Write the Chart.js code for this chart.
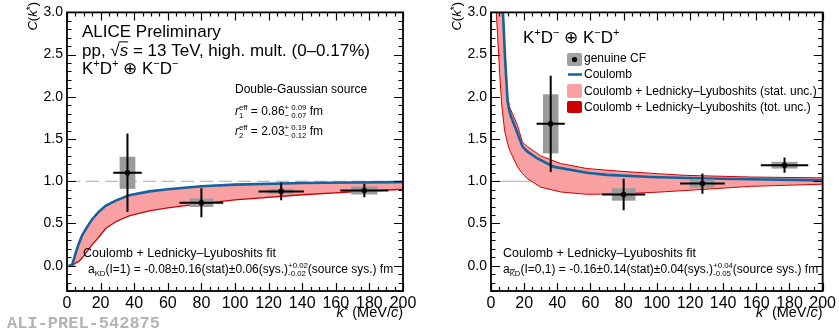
<!DOCTYPE html>
<html>
<head>
<meta charset="utf-8">
<script src="https://cdn.jsdelivr.net/npm/chart.js@4.4.0/dist/chart.umd.min.js"></script>
<style>
  html, body { margin: 0; padding: 0; background: #fff; }
  #wrap { position: relative; width: 839px; height: 331px; }
  canvas { position: absolute; top: 0; }
  #left { left: 0; }
  #right { left: 420px; }
</style>
</head>
<body>
<div id="wrap">
  <canvas id="left" width="420" height="331"></canvas>
  <canvas id="right" width="419" height="331"></canvas>
</div>
<script>
// k* bins (MeV/c)
const kCentres = [36, 80, 127.5, 177];
const kHalfBin = [8.5, 13, 13.5, 14.3];
const xTickLabels = ['0', '20', '40', '60', '80', '100', '120', '140', '160', '180', '200'];
const yTickLabels = ['0.0', '0.5', '1.0', '1.5', '2.0', '2.5', '3.0'];

// K+D+ (+) K-D-
const leftCF = [1.10, 0.745, 0.88, 0.89];
const leftStat = [0.465, 0.172, 0.105, 0.08];
const leftSys = [0.19, 0.05, 0.03, 0.047];
const leftFitK = [1, 3, 4, 5, 7, 9, 12, 15, 19, 23, 29, 37, 49, 60, 80, 100, 140, 170, 200];
const leftFitHigh = [0.0, 0.01, 0.07, 0.14, 0.26, 0.36, 0.46, 0.55, 0.64, 0.71, 0.77, 0.835, 0.88, 0.905, 0.94, 0.96, 0.98, 0.985, 0.99];
const leftFitLow = [0.0, 0.0, 0.01, 0.03, 0.05, 0.09, 0.17, 0.25, 0.34, 0.44, 0.52, 0.59, 0.65, 0.685, 0.735, 0.78, 0.84, 0.875, 0.905];

// K+D- (+) K-D+
const rightCF = [1.68, 0.843, 0.973, 1.19];
const rightStat = [0.57, 0.187, 0.12, 0.09];
const rightSys = [0.35, 0.073, 0.048, 0.04];
const rightCoulombK = [7.2, 8.5, 10, 11, 12, 15, 19, 22, 28, 38, 58, 70, 97, 130, 157, 200];
const rightCoulomb = [3.0, 2.45, 1.95, 1.84, 1.77, 1.62, 1.41, 1.35, 1.27, 1.17, 1.10, 1.075, 1.05, 1.033, 1.024, 1.01];
const rightFitK = [3.2, 5.2, 6.5, 8.2, 10, 11.2, 16, 19, 22, 30, 42, 58, 77, 100, 117, 157, 200];
const rightFitLow = [3.0, 2.29, 1.9, 1.6, 1.45, 1.37, 1.17, 1.09, 1.03, 0.93, 0.873, 0.845, 0.85, 0.87, 0.89, 0.94, 0.965];
const rightFitHigh = [4.6, 3.9, 3.4, 2.6, 2.0, 1.88, 1.66, 1.46, 1.41, 1.30, 1.21, 1.15, 1.12, 1.09, 1.07, 1.05, 1.04];

const refLevel = 1.0;

const FONT = '"Liberation Sans", Arial, Helvetica, sans-serif';
const BLUE = '#15639e';
const PINK = '#f8a0a2';
const RED = '#d20000';
const GREY = '#9b9b9b';
const SYS_BOX_FRAC = 0.55;

const pts = (xs, ys) => xs.map((x, i) => ({ x, y: ys[i] }));

function xErrPts(cf) {
    const out = [];
    kCentres.forEach((k, i) => {
        out.push({ x: k - kHalfBin[i], y: cf[i] }, { x: k + kHalfBin[i], y: cf[i] }, { x: k, y: null });
    });
    return out;
}

function yErrPts(cf, err) {
    const out = [];
    kCentres.forEach((k, i) => {
        out.push({ x: k, y: cf[i] - err[i] }, { x: k, y: cf[i] + err[i] }, { x: k, y: null });
    });
    return out;
}

// text with simple super/subscripts, returns width
function rich(ctx, parts, size, x, y, draw) {
    let cx = x;
    ctx.textAlign = 'left';
    ctx.textBaseline = 'alphabetic';
    for (const p of parts) {
        if (typeof p === 'string') {
            ctx.font = size + 'px ' + FONT;
            if (draw) ctx.fillText(p, cx, y);
            cx += ctx.measureText(p).width;
        } else if (p.it !== undefined) {
            ctx.font = 'italic ' + size + 'px ' + FONT;
            if (draw) ctx.fillText(p.it, cx, y);
            cx += ctx.measureText(p.it).width;
        } else if (p.root !== undefined) {
            ctx.font = size + 'px ' + FONT;
            const rw = ctx.measureText('√').width;
            if (draw) ctx.fillText('√', cx, y);
            cx += rw;
            ctx.font = 'italic ' + size + 'px ' + FONT;
            const sw = ctx.measureText(p.root).width;
            if (draw) {
                ctx.fillText(p.root, cx, y);
                ctx.fillRect(cx - 1, y - size * 0.86, sw + 1, 1);
            }
            cx += sw;
        } else {
            const small = size * (p.s || 0.65);
            ctx.font = small + 'px ' + FONT;
            let w = 0;
            if (p.sup !== undefined) {
                if (draw) ctx.fillText(p.sup, cx, y - size * (p.s ? 0.2 : 0.42));
                w = Math.max(w, ctx.measureText(p.sup).width);
            }
            if (p.sub !== undefined) {
                const sy = y + size * 0.28;
                if (draw) {
                    ctx.fillText(p.sub, cx, sy);
                    if (p.bar) ctx.fillRect(cx, sy - small * 0.9, ctx.measureText(p.sub[0]).width, 1);
                }
                w = Math.max(w, ctx.measureText(p.sub).width);
            }
            cx += w;
        }
    }
    return cx - x;
}

// frame with ROOT-like inward ticks on all four sides
const frameTicks = {
    id: 'frameTicks',
    afterDatasetsDraw(chart) {
        const { ctx, chartArea: a, scales: { x, y } } = chart;
        ctx.save();
        ctx.strokeStyle = '#000';
        ctx.lineWidth = 1.2;
        ctx.beginPath();
        for (let v = 0; v <= 200; v += 5) {
            const px = Math.round(x.getPixelForValue(v)) + 0.5;
            const len = v % 20 === 0 ? 8 : 4;
            ctx.moveTo(px, a.bottom); ctx.lineTo(px, a.bottom - len);
            ctx.moveTo(px, a.top); ctx.lineTo(px, a.top + len);
        }
        for (let i = -3; i <= 30; i++) {
            const py = Math.round(y.getPixelForValue(i / 10)) + 0.5;
            const len = i % 5 === 0 ? 9 : 4.5;
            ctx.moveTo(a.left, py); ctx.lineTo(a.left + len, py);
            ctx.moveTo(a.right, py); ctx.lineTo(a.right - len, py);
        }
        ctx.stroke();
        ctx.lineWidth = 1.8;
        ctx.strokeRect(a.left, a.top, a.width, a.height);
        ctx.restore();
    }
};

// C(k*) = 1 reference, drawn before anything else so the band covers it
function makeRefLine(dashed) {
    return {
        id: 'refLine',
        beforeDraw(chart) {
            const { ctx, scales: { x, y } } = chart;
            const py = y.getPixelForValue(refLevel);
            ctx.save();
            ctx.strokeStyle = '#a8a8a8';
            ctx.lineWidth = 1.2;
            if (dashed) ctx.setLineDash([13, 6]);
            ctx.beginPath();
            ctx.moveTo(x.getPixelForValue(0), py);
            ctx.lineTo(x.getPixelForValue(200), py);
            ctx.stroke();
            ctx.restore();
        }
    };
}

// systematic boxes, drawn just under the error bars
function makeSysBoxes(cf, sys) {
    return {
        id: 'sysBoxes',
        beforeDatasetDraw(chart, args) {
            if (chart.data.datasets[args.index].label !== 'stat') return;
            const { ctx, scales: { x, y } } = chart;
            ctx.save();
            ctx.fillStyle = GREY;
            kCentres.forEach((k, i) => {
                const hw = kHalfBin[i] * SYS_BOX_FRAC;
                const x0 = x.getPixelForValue(k - hw);
                const x1 = x.getPixelForValue(k + hw);
                const y0 = y.getPixelForValue(cf[i] + sys[i]);
                const y1 = y.getPixelForValue(cf[i] - sys[i]);
                ctx.fillRect(x0, y0, x1 - x0, y1 - y0);
            });
            ctx.restore();
        }
    };
}

function makeTexts(offset, drawExtra) {
    return {
        id: 'texts',
        afterDraw(chart) {
            const { ctx, chartArea: a } = chart;
            ctx.save();
            ctx.fillStyle = '#000';
            // y title
            const yt = [{ it: 'C' }, '(', { it: 'k' }, { sup: '*', s: 0.8 }, ')'];
            ctx.save();
            ctx.translate(a.left - 30, 2);
            ctx.rotate(-Math.PI / 2);
            const yw = rich(ctx, yt, 13, 0, 0, false);
            rich(ctx, yt, 13, -yw, 0, true);
            ctx.restore();
            // x title
            const xt = [{ it: 'k' }, { sup: '*', s: 0.8 }, ' (MeV/', { it: 'c' }, ')'];
            const xw = rich(ctx, xt, 14.5, 0, 0, false);
            rich(ctx, xt, 14.5, a.right - xw, 317, true);
            drawExtra(ctx, offset);
            ctx.restore();
        }
    };
}

function leftExtra(ctx) {
    rich(ctx, ['ALICE Preliminary'], 17, 82, 37, true);
    rich(ctx, ['pp, ', { root: 's' }, ' = 13 TeV, high. mult. (0–0.17%)'], 17, 82, 56, true);
    rich(ctx, ['K', { sup: '+' }, 'D', { sup: '+' }, ' ⊕ K', { sup: '−' }, 'D', { sup: '−' }], 17, 82, 74, true);
    rich(ctx, ['Double-Gaussian source'], 12, 235, 93, true);
    rich(ctx, [{ it: 'r' }, { sup: 'eff', sub: '1' }, ' = 0.86', { sup: '+ 0.09', sub: '− 0.07' }, ' fm'], 12, 235, 115, true);
    rich(ctx, [{ it: 'r' }, { sup: 'eff', sub: '2' }, ' = 2.03', { sup: '+ 0.19', sub: '− 0.12' }, ' fm'], 12, 235, 135, true);
    rich(ctx, ['Coulomb + Lednicky–Lyuboshits fit'], 12.5, 83, 257, true);
    rich(ctx, ['a', { sub: 'KD' }, '(I=1) = -0.08±0.16(stat)±0.06(sys.)', { sup: '+0.02', sub: '-0.02' }, '(source sys.) fm'], 12, 88, 273, true);
    ctx.fillStyle = '#b4b4b4';
    ctx.font = 'bold 17px "Liberation Mono", "DejaVu Sans Mono", monospace';
    ctx.fillText('ALI-PREL-542875', 7, 328);
}

function rightExtra(ctx, off) {
    rich(ctx, ['K', { sup: '+' }, 'D', { sup: '−' }, ' ⊕ K', { sup: '−' }, 'D', { sup: '+' }], 17, 523 - off, 43, true);
    // legend
    const lx = 567 - off;
    ctx.fillStyle = '#a0a0a0';
    ctx.beginPath(); ctx.roundRect(lx, 53, 15, 13, 2); ctx.fill();
    ctx.fillStyle = '#000';
    ctx.beginPath(); ctx.arc(lx + 7.5, 59.5, 2.6, 0, Math.PI * 2); ctx.fill();
    ctx.strokeStyle = BLUE; ctx.lineWidth = 2.5;
    ctx.beginPath(); ctx.moveTo(lx + 1, 74.5); ctx.lineTo(lx + 15, 74.5); ctx.stroke();
    ctx.fillStyle = PINK;
    ctx.beginPath(); ctx.roundRect(lx, 84, 15, 14, 2); ctx.fill();
    ctx.fillStyle = '#cc0000';
    ctx.beginPath(); ctx.roundRect(lx, 101, 15, 12, 2); ctx.fill();
    ctx.fillStyle = '#000';
    const tx = 584 - off;
    rich(ctx, ['genuine CF'], 12, tx, 62, true);
    rich(ctx, ['Coulomb'], 12, tx, 78, true);
    rich(ctx, ['Coulomb + Lednicky–Lyuboshits (stat. unc.)'], 12, tx, 95, true);
    rich(ctx, ['Coulomb + Lednicky–Lyuboshits (tot. unc.)'], 12, tx, 111, true);
    rich(ctx, ['Coulomb + Lednicky–Lyuboshits fit'], 12.5, 503 - off, 257, true);
    rich(ctx, ['a', { sub: 'KD', bar: true }, '(I=0,1) = -0.16±0.14(stat)±0.04(sys.)', { sup: '+0.04', sub: '-0.05' }, '(source sys.) fm'], 12, 503 - off, 273, true);
}

function makeChart(id, cfg) {
    return new Chart(document.getElementById(id), {
        type: 'line',
        data: { datasets: cfg.datasets },
        options: {
            responsive: false,
            animation: false,
            devicePixelRatio: 1,
            layout: { padding: { left: 0, right: cfg.padRight, top: 12, bottom: 0 } },
            plugins: {
                legend: { display: false },
                tooltip: { enabled: false },
                filler: { drawTime: 'beforeDatasetsDraw' }
            },
            elements: { point: { radius: 0 }, line: { tension: 0 } },
            scales: {
                x: {
                    type: 'linear', min: 0, max: 200,
                    grid: { display: false, drawTicks: false }, border: { display: false },
                    afterBuildTicks: s => { s.ticks = xTickLabels.map(v => ({ value: +v })); },
                    afterFit: s => { s.height = 40; },
                    ticks: { color: '#000', padding: 3, font: { family: FONT, size: 16 }, maxRotation: 0, callback: v => String(v) }
                },
                y: {
                    min: -0.3, max: 3.0,
                    grid: { display: false, drawTicks: false }, border: { display: false },
                    afterBuildTicks: s => { s.ticks = yTickLabels.map(v => ({ value: +v })); },
                    afterFit: s => { s.width = cfg.yWidth; },
                    ticks: { color: '#000', padding: 4, font: { family: FONT, size: 14 }, callback: v => v.toFixed(1) }
                }
            }
        },
        plugins: [cfg.refLine, cfg.sysBoxes, frameTicks, cfg.texts]
    });
}

function markerSets(cf, stat) {
    return [
        { label: 'points', data: pts(kCentres, cf), showLine: false, pointRadius: 2.8, pointBackgroundColor: '#000', pointBorderWidth: 0, order: 0 },
        { label: 'binwidth', data: xErrPts(cf), borderColor: '#000', borderWidth: 2, spanGaps: false, order: 1 },
        { label: 'stat', data: yErrPts(cf, stat), borderColor: '#000', borderWidth: 2, spanGaps: false, order: 2 }
    ];
}

makeChart('left', {
    padRight: 17,
    yWidth: 67,
    refLine: makeRefLine(true),
    sysBoxes: makeSysBoxes(leftCF, leftSys),
    texts: makeTexts(0, leftExtra),
    datasets: [
        ...markerSets(leftCF, leftStat),
        { label: 'fit', data: pts(leftFitK, leftFitHigh), borderColor: BLUE, borderWidth: 2.6, backgroundColor: PINK, fill: '+1', clip: 0, order: 3 },
        { label: 'fitLow', data: pts(leftFitK, leftFitLow), borderColor: RED, borderWidth: 1.3, fill: false, clip: 0, order: 4 }
    ]
});

makeChart('right', {
    padRight: 13,
    yWidth: 71,
    refLine: makeRefLine(false),
    sysBoxes: makeSysBoxes(rightCF, rightSys),
    texts: makeTexts(420, rightExtra),
    datasets: [
        ...markerSets(rightCF, rightStat),
        { label: 'coulomb', data: pts(rightCoulombK, rightCoulomb), borderColor: BLUE, borderWidth: 2.6, fill: false, clip: 0, order: 3 },
        { label: 'fitHigh', data: pts(rightFitK, rightFitHigh), borderColor: RED, borderWidth: 1, backgroundColor: PINK, fill: '+1', clip: 0, order: 4 },
        { label: 'fitLow', data: pts(rightFitK, rightFitLow), borderColor: RED, borderWidth: 1, fill: false, clip: 0, order: 5 }
    ]
});
</script>
</body>
</html>
